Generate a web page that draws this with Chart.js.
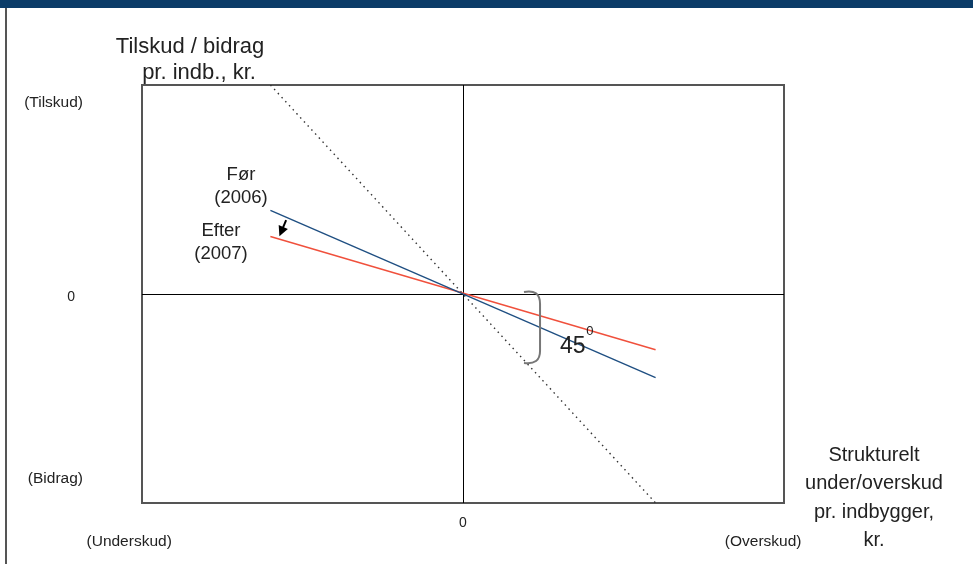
<!DOCTYPE html>
<html>
<head>
<meta charset="utf-8">
<script src="https://cdn.jsdelivr.net/npm/chart.js@4.4.1/dist/chart.umd.min.js"></script>
<style>
  body { margin: 0; background: #fff; }
  #wrap { position: relative; width: 973px; height: 564px; }
  #bar { position: absolute; left: 0; top: 0; width: 973px; height: 8px; background: #0b3c68; }
  #edge { position: absolute; left: 5px; top: 8px; width: 2px; height: 556px; background: #555; }
  #box { position: absolute; left: 0; top: 0; width: 973px; height: 564px; }
</style>
</head>
<body>
<div id="wrap">
  <div id="box"><canvas id="chart"></canvas></div>
  <div id="bar"></div>
  <div id="edge"></div>
</div>
<script>
// line ends (x) and values
const xEnds = [-6, 6];
const forValues = [2.4, -2.4];      // Før (2006)
const efterValues = [1.65, -1.6];   // Efter (2007)
const diagValues = [6, -6];         // 45 degree line

const yTickLabels = ['(Tilskud)', '0', '(Bidrag)'];
const xTickLabels = ['(Underskud)', '0', '(Overskud)'];
const yTitle = ['Tilskud / bidrag', 'pr. indb., kr.'];
const xTitle = ['Strukturelt', 'under/overskud', 'pr. indbygger,', 'kr.'];
const forLabel = ['Før', '(2006)'];
const efterLabel = ['Efter', '(2007)'];

const FONT = '"Liberation Sans", Arial, sans-serif';
const TEXT = '#222';

const toPoints = (vals) => xEnds.map((x, i) => ({ x: x, y: vals[i] }));

const drawing = {
  id: 'drawing',
  beforeDatasetsDraw(chart) {
    const { ctx, chartArea: a, scales: { x, y } } = chart;
    ctx.save();
    // frame
    ctx.strokeStyle = '#555';
    ctx.lineWidth = 2;
    ctx.strokeRect(a.left, a.top, a.right - a.left, a.bottom - a.top);
    // zero lines
    ctx.strokeStyle = '#000';
    ctx.lineWidth = 1;
    const x0 = Math.round(x.getPixelForValue(0)) + 0.5;
    const y0 = Math.round(y.getPixelForValue(0)) + 0.5;
    ctx.beginPath();
    ctx.moveTo(x0, a.top); ctx.lineTo(x0, a.bottom);
    ctx.moveTo(a.left, y0); ctx.lineTo(a.right, y0);
    ctx.stroke();
    ctx.restore();
  },
  afterDatasetsDraw(chart) {
    const { ctx, scales: { x, y } } = chart;
    const px = (vx) => x.getPixelForValue(vx);
    const py = (vy) => y.getPixelForValue(vy);
    const text = (s, tx, ty, size, align) => {
      ctx.font = size + 'px ' + FONT;
      ctx.textAlign = align || 'center';
      ctx.textBaseline = 'middle';
      ctx.fillText(s, tx, ty);
    };
    ctx.save();
    ctx.fillStyle = TEXT;

    // y side labels
    const yAt = [5.48, 0, -5.31];
    yTickLabels.forEach((s, i) => text(s, i === 1 ? 75 : 83, py(yAt[i]) + (i === 1 ? 3 : 0), i === 1 ? 14 : 15.5, 'right'));
    // x side labels
    text(xTickLabels[0], px(-10.4), 542, 15.5);
    text(xTickLabels[1], px(0), 523, 14);
    text(xTickLabels[2], px(9.35), 542, 15.5);

    // axis titles
    text(yTitle[0], 190, 47, 22);
    text(yTitle[1], 199, 73, 22);
    xTitle.forEach((s, i) => text(s, 874, 455 + i * 28.5, 20));

    // series labels
    forLabel.forEach((s, i) => text(s, 241, 175 + i * 23, 18.5));
    efterLabel.forEach((s, i) => text(s, 221, 231 + i * 22.5, 18.5));

    // 45 degree mark
    text('45', px(3.42), py(-1.5), 23);
    text('0', px(3.95), py(-1.06), 13);

    // brace
    const bx = px(1.9), bxr = px(2.4), bt = py(0.06), bb = py(-1.98);
    ctx.strokeStyle = '#777';
    ctx.lineWidth = 2;
    ctx.beginPath();
    ctx.moveTo(bx, bt);
    ctx.quadraticCurveTo(bxr, bt - 3, bxr, bt + 12);
    ctx.lineTo(bxr, bb - 12);
    ctx.quadraticCurveTo(bxr, bb + 2, bx, bb);
    ctx.stroke();

    // arrow Før -> Efter
    const ax1 = px(-5.51), ay1 = py(2.12), ax2 = px(-5.72), ay2 = py(1.66);
    const ang = Math.atan2(ay2 - ay1, ax2 - ax1);
    ctx.strokeStyle = '#000';
    ctx.fillStyle = '#000';
    ctx.lineWidth = 2;
    ctx.beginPath();
    ctx.moveTo(ax1, ay1);
    ctx.lineTo(ax2 - 5 * Math.cos(ang), ay2 - 5 * Math.sin(ang));
    ctx.stroke();
    ctx.beginPath();
    ctx.moveTo(ax2, ay2);
    ctx.lineTo(ax2 - 10 * Math.cos(ang) + 5 * Math.sin(ang), ay2 - 10 * Math.sin(ang) - 5 * Math.cos(ang));
    ctx.lineTo(ax2 - 10 * Math.cos(ang) - 5 * Math.sin(ang), ay2 - 10 * Math.sin(ang) + 5 * Math.cos(ang));
    ctx.closePath();
    ctx.fill();
    ctx.restore();
  }
};

new Chart(document.getElementById('chart'), {
  type: 'line',
  data: {
    datasets: [
      {
        label: 'Før (2006)',
        data: toPoints(forValues),
        borderColor: '#1f4f82',
        borderWidth: 1.4,
        pointRadius: 0
      },
      {
        label: 'Efter (2007)',
        data: toPoints(efterValues),
        borderColor: '#f0503c',
        borderWidth: 1.4,
        pointRadius: 0
      },
      {
        label: '45',
        data: toPoints(diagValues),
        borderColor: '#333',
        borderWidth: 1.4,
        borderDash: [1.5, 4],
        pointRadius: 0
      }
    ]
  },
  options: {
    responsive: true,
    maintainAspectRatio: false,
    animation: false,
    layout: { padding: { left: 142, top: 85, right: 189, bottom: 61 } },
    plugins: { legend: { display: false }, tooltip: { enabled: false } },
    scales: {
      x: { type: 'linear', min: -10, max: 10, display: false },
      y: { type: 'linear', min: -6, max: 6, display: false }
    }
  },
  plugins: [drawing]
});
</script>
</body>
</html>
